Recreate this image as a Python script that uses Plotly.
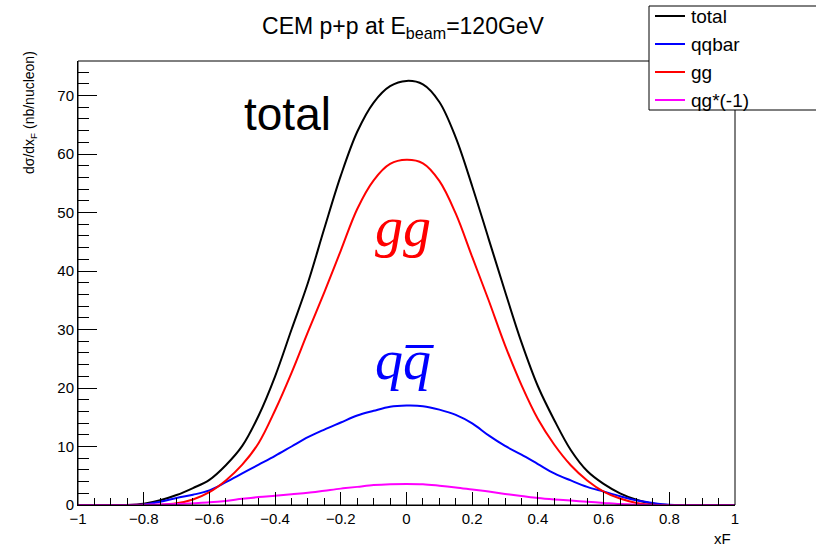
import plotly.graph_objects as go

xF = [-1.00, -0.95, -0.90, -0.85, -0.80, -0.75, -0.70, -0.65, -0.60, -0.55,
      -0.50, -0.45, -0.40, -0.35, -0.30, -0.25, -0.20, -0.15, -0.10, -0.05,
      0.00, 0.05, 0.10, 0.15, 0.20, 0.25, 0.30, 0.35, 0.40, 0.45,
      0.50, 0.55, 0.60, 0.65, 0.70, 0.75, 0.80, 0.85, 0.90, 0.95, 1.00]

total = [0, 0, 0, 0, 0.2, 0.8, 1.7, 2.9, 4.3, 6.8,
         10.1, 15.3, 22.0, 30.0, 38.0, 47.3, 56.3, 63.8, 68.8, 71.6,
         72.5, 71.9, 68.9, 62.8, 54.5, 45.5, 36.5, 27.8, 20.3, 14.5,
         9.4, 5.8, 3.6, 2.0, 0.9, 0.2, 0, 0, 0, 0, 0]

qqbar = [0, 0, 0, 0, 0.05, 0.55, 1.2, 1.75, 2.5, 3.9,
         5.4, 6.9, 8.4, 10.0, 11.6, 12.9, 14.1, 15.3, 16.1, 16.8,
         17.0, 16.9, 16.3, 15.4, 13.95, 11.9, 10.1, 8.6, 7.0, 5.4,
         4.2, 3.1, 2.3, 1.5, 0.8, 0.35, 0.05, 0, 0, 0, 0]

gg = [0, 0, 0, 0, 0, 0.05, 0.3, 0.95, 2.2, 4.2,
      6.9, 10.6, 16.2, 22.6, 29.6, 36.4, 43.5, 50.6, 55.5, 58.3,
      59.0, 58.4, 55.4, 49.8, 42.4, 35.0, 27.3, 20.5, 14.7, 10.3,
      6.8, 4.2, 2.3, 1.1, 0.35, 0.05, 0, 0, 0, 0, 0]

qg_neg = [0, 0, 0, 0.02, 0.05, 0.1, 0.15, 0.3, 0.45, 0.7,
          1.05, 1.35, 1.6, 1.85, 2.1, 2.45, 2.8, 3.1, 3.4, 3.55,
          3.6, 3.55, 3.3, 3.0, 2.65, 2.3, 1.9, 1.55, 1.2, 0.95,
          0.75, 0.55, 0.35, 0.15, 0.05, 0.02, 0, 0, 0, 0, 0]

x_tickvals = [-1, -0.8, -0.6, -0.4, -0.2, 0, 0.2, 0.4, 0.6, 0.8, 1]
x_ticktext = ["−1", "−0.8", "−0.6", "−0.4", "−0.2", "0", "0.2", "0.4", "0.6", "0.8", "1"]

series = [("total", total, "#000000"),
          ("qqbar", qqbar, "#0000ff"),
          ("gg", gg, "#ff0000"),
          ("qg*(-1)", qg_neg, "#ff00ff")]

fig = go.Figure()
for name, ys, col in series:
    fig.add_trace(go.Scatter(x=xF, y=ys, name=name, mode="lines", showlegend=False,
                             line=dict(color=col, width=2, shape="spline", smoothing=1.0)))

FONT = "Liberation Sans, Arial, sans-serif"
L, R, T, B = 78, 735, 61, 505


def px_x(p):
    return (p - L) / (R - L)


def px_y(p):
    return (B - p) / (B - T)


fig.update_layout(
    width=816, height=546,
    margin=dict(l=78, r=81, t=61, b=41),
    paper_bgcolor="white", plot_bgcolor="white",
    font=dict(family=FONT, color="black", size=15),
    title=dict(text="CEM p+p at E<sub>beam</sub>=120GeV", x=403 / 816, xanchor="center",
               y=1 - 26 / 546, yanchor="middle", yref="container",
               font=dict(family=FONT, size=23, color="black")),
    showlegend=False,
)

fig.update_xaxes(range=[-1, 1], showgrid=False, zeroline=False,
                 showline=True, linecolor="black", linewidth=1, mirror=False,
                 ticks="inside", ticklen=13, tickcolor="black", tickwidth=1,
                 tickvals=x_tickvals, ticktext=x_ticktext, tickangle=0,
                 minor=dict(ticks="inside", ticklen=7, dtick=0.05, tick0=-1,
                            tickcolor="black", showgrid=False),
                 tickfont=dict(family=FONT, size=15))
fig.update_yaxes(range=[0, 75.9], showgrid=False, zeroline=False,
                 showline=True, linecolor="black", linewidth=1, mirror=False,
                 ticks="inside", ticklen=19, tickcolor="black", tickwidth=1,
                 tick0=0, dtick=10,
                 minor=dict(ticks="inside", ticklen=11, dtick=2, tick0=0,
                            tickcolor="black", showgrid=False),
                 tickfont=dict(family=FONT, size=15))

# frame (top/right sides), drawn before the legend so the legend covers it
fig.add_shape(type="rect", xref="paper", yref="paper", x0=0, x1=1, y0=0, y1=1,
              line=dict(color="black", width=1), fillcolor="rgba(0,0,0,0)", layer="above")

# axis titles (ROOT style: at the axis ends)
fig.add_annotation(text="dσ/dx<sub>F</sub> (nb/nucleon)", xref="paper", yref="paper",
                   x=px_x(30), y=px_y(113), textangle=-90, showarrow=False,
                   xanchor="center", yanchor="middle",
                   font=dict(family=FONT, size=14, color="black"))
fig.add_annotation(text="xF", xref="paper", yref="paper", x=px_x(733), y=px_y(538),
                   showarrow=False, xanchor="right", yanchor="middle",
                   font=dict(family=FONT, size=15, color="black"))

# manual ROOT-style legend box
fig.add_shape(type="rect", xref="paper", yref="paper",
              x0=px_x(649), x1=px_x(830), y0=px_y(110), y1=px_y(6),
              line=dict(color="black", width=1), fillcolor="white", layer="above")
legend_rows = [16, 44, 72, 100]
for (name, ys, col), row in zip(series, legend_rows):
    fig.add_shape(type="line", xref="paper", yref="paper",
                  x0=px_x(655), x1=px_x(685), y0=px_y(row), y1=px_y(row),
                  line=dict(color=col, width=2), layer="above")
    fig.add_annotation(text=name, xref="paper", yref="paper", x=px_x(689), y=px_y(row + 1),
                       showarrow=False, xanchor="left", yanchor="middle",
                       font=dict(family=FONT, size=19, color="black"))

# in-plot labels
fig.add_annotation(text="total", x=-0.362, y=66.9, showarrow=False,
                   xanchor="center", yanchor="middle",
                   font=dict(family=FONT, size=46, color="black"))
fig.add_annotation(text="<i>gg</i>", x=-0.011, y=47.5, showarrow=False,
                   xanchor="center", yanchor="middle",
                   font=dict(family="Liberation Serif, Times New Roman, serif", size=56, color="#ff0000"))
fig.add_annotation(text="<i>q</i><i>q\u0305</i>", x=-0.005, y=24.8, showarrow=False,
                   xanchor="center", yanchor="middle",
                   font=dict(family="Liberation Serif, Times New Roman, serif", size=56, color="#0000ff"))

fig.write_html("out.html")
